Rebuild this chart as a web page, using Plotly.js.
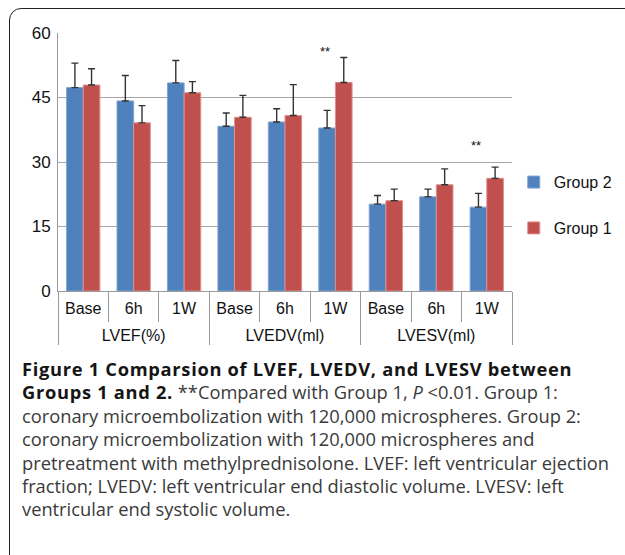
<!DOCTYPE html>
<html><head><meta charset="utf-8">
<script src="https://cdn.plot.ly/plotly-3.0.1.min.js"></script>
<style>
html,body{margin:0;padding:0;background:#fff;}
#wrap{position:relative;width:625px;height:555px;overflow:hidden;background:#fff;}
#frame{position:absolute;left:9px;top:8px;width:640px;height:560px;border:1.5px solid #222;border-radius:12px;box-sizing:border-box;}
#chart{position:absolute;left:0;top:0;width:625px;height:360px;}
#cap{position:absolute;left:22px;top:357px;width:620px;font-family:"Open Sans","Noto Sans",sans-serif;font-size:18.3px;line-height:23.4px;color:#3a3a3a;white-space:nowrap;}
#cap b{color:#151515;font-weight:700;letter-spacing:0.7px;}
</style></head>
<body><div id="wrap"><div id="frame"></div><div id="chart"></div>
<div id="cap"><b>Figure 1 Comparsion of LVEF, LVEDV, and LVESV between<br>Groups 1 and 2.</b> **Compared with Group 1, <i>P</i> &lt;0.01. Group 1:<br>coronary microembolization with 120,000 microspheres. Group 2:<br>coronary microembolization with 120,000 microspheres and<br>pretreatment with methylprednisolone. LVEF: left ventricular ejection<br>fraction; LVEDV: left ventricular end diastolic volume. LVESV: left<br>ventricular end systolic volume.</div></div>
<script>
const groups = ['LVEF(%)','LVEF(%)','LVEF(%)','LVEDV(ml)','LVEDV(ml)','LVEDV(ml)','LVESV(ml)','LVESV(ml)','LVESV(ml)'];
const times = ['Base','6h','1W','Base','6h','1W','Base','6h','1W'];
const group2 = [47.3, 44.2, 48.4, 38.3, 39.3, 37.9, 20.2, 21.9, 19.5];
const group2Err = [5.7, 5.9, 5.2, 3.1, 3.1, 4.1, 2.0, 1.8, 3.2];
const group1 = [47.9, 39.1, 46.1, 40.4, 40.8, 48.5, 21.0, 24.7, 26.2];
const group1Err = [3.8, 4.0, 2.6, 5.1, 7.2, 5.8, 2.7, 3.7, 2.6];
const sigIndex = [5, 8];
const sigY = [55.6, 33.8];
const sigText = ['**','**'];

// labels drawn at 16px inside a 12px axis font; sub-level labels get a small second line
// so the group level sits lower, as in the original
const big = s => '<span style="font-size:16px">' + s + '</span>';
const timeLabels = times.map(t => big(t) + '<br><span style="font-size:16px">&nbsp;</span>');
const groupLabels = groups.map(big);
const zeros = group2.map(()=>0);
const family = '"Liberation Sans", Arial, sans-serif';
const traces = [
  {type:'bar', name:'Group 2', x:[groupLabels,timeLabels], y:group2, legendgroup:'g2',
   marker:{color:'#4F81BD', line:{color:'#7fa3d3', width:1}},
   error_y:{type:'data', array:group2Err, arrayminus:zeros, symmetric:false, color:'#333', thickness:1.4, width:3.5}},
  {type:'bar', name:'Group 1', x:[groupLabels,timeLabels], y:group1, legendgroup:'g1',
   marker:{color:'#C0504D', line:{color:'#e08f8d', width:1}},
   error_y:{type:'data', array:group1Err, arrayminus:zeros, symmetric:false, color:'#333', thickness:1.4, width:3.5}}
];
const annotations = sigIndex.map((i,k)=>({x:i-0.21, y:sigY[k], xref:'x', yref:'y', text:sigText[k], showarrow:false,
  font:{family:family, size:13, color:'#111'}}));
const layout = {
  width:625, height:360, margin:{l:58, r:113, t:33, b:69},
  paper_bgcolor:'rgba(0,0,0,0)', plot_bgcolor:'rgba(0,0,0,0)',
  font:{family:family, size:16, color:'#111'}, barmode:'group', bargap:0.34, bargroupgap:0,
  showlegend:true,
  legend:{xref:'container', yref:'container', x:0.822, y:0.43, xanchor:'left', yanchor:'middle', tracegroupgap:22,
    font:{size:16, color:'#111'}, bgcolor:'rgba(0,0,0,0)', itemwidth:30},
  xaxis:{type:'multicategory', showline:true, linecolor:'#999', linewidth:1, ticks:'outside', tickson:'boundaries', ticklen:30, tickcolor:'#999',
    showdividers:true, dividercolor:'#999', dividerwidth:1, showgrid:false, tickfont:{family:family, size:12, color:'#111'}, ticklabelstandoff:8},
  yaxis:{range:[0,60], tickvals:[0,15,30,45,60], showline:true, linecolor:'#999', linewidth:1, showgrid:true, gridcolor:'#a6a6a6', gridwidth:1,
    zeroline:false, ticks:'', tickfont:{family:family, size:17, color:'#111'}, ticklabelstandoff:3},
  annotations:annotations
};
Plotly.newPlot('chart', traces, layout, {displayModeBar:false, staticPlot:true});
</script></body></html>
